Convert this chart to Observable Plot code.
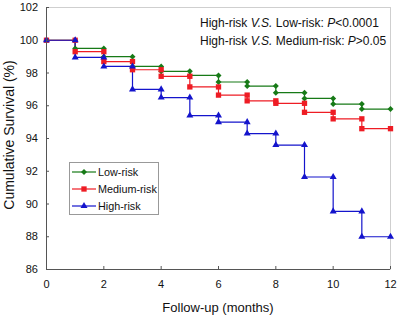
<!DOCTYPE html>
<html>
<head>
<meta charset="utf-8">
<script src="https://cdn.jsdelivr.net/npm/d3@7"></script>
<script src="https://cdn.jsdelivr.net/npm/@observablehq/plot@0.6"></script>
<style>
  html, body { margin: 0; padding: 0; background: #fff; }
  #wrap { position: relative; width: 398px; height: 315px; font-family: "Liberation Sans", Arial, sans-serif; color: #111; }
  #wrap svg { display: block; }
  .ylab { position: absolute; left: 9px; top: 135px; transform: translate(-50%, -50%) rotate(-90deg); font-size: 14px; white-space: nowrap; }
  .xlab { position: absolute; left: 218px; top: 307px; transform: translate(-50%, -50%); font-size: 13px; white-space: nowrap; }
  .ann { position: absolute; left: 200px; font-size: 12px; white-space: nowrap; }
  .legend { position: absolute; left: 69px; top: 162px; width: 88px; height: 51px; border: 1px solid #999; background: #fff; font-size: 10.8px; }
  .legend .row { position: absolute; left: 2px; height: 14px; display: flex; align-items: center; }
  .legend .row svg { margin-right: 2px; }
</style>
</head>
<body>
<div id="wrap"></div>
<script>
const months = [0, 1, 2, 3, 4, 5, 6, 7, 8, 9, 10, 11, 12];
const lowRisk = [100, 99.5, 99.0, 98.4, 98.1, 97.85, 97.45, 97.2, 96.8, 96.45, 96.1, 95.8, 95.8];
const mediumRisk = [100, 99.3, 98.7, 98.2, 97.8, 97.15, 96.65, 96.3, 96.15, 95.6, 95.2, 94.6, 94.6];
const highRisk = [100, 98.95, 98.4, 97.0, 96.5, 95.4, 95.0, 94.3, 93.6, 91.65, 89.55, 88.0, 88.0];
const seriesNames = ["Low-risk", "Medium-risk", "High-risk"];
const seriesColors = ["#177a17", "#ee1c24", "#1414cc"];
const seriesSymbols = ["diamond2", "square", "triangle"];
const seriesR = [2.7, 3, 2.6];
const xTicks = [0, 2, 4, 6, 8, 10, 12];
const yTicks = [86, 88, 90, 92, 94, 96, 98, 100, 102];

const allSeries = [lowRisk, mediumRisk, highRisk];

function lineData(vals, name) {
  return months.map((m, i) => ({ month: m, value: vals[i], series: name }));
}
function markerData(vals, name) {
  const out = [];
  months.forEach((m, i) => {
    const s = [];
    if (i > 0) s.push(vals[i - 1]);
    if (!s.includes(vals[i])) s.push(vals[i]);
    s.forEach(v => out.push({ month: m, value: v, series: name }));
  });
  return out;
}

const marks = [
  Plot.frame({ stroke: "#cfcfcf" }),
];
allSeries.forEach((vals, k) => {
  marks.push(Plot.line(lineData(vals, seriesNames[k]), {
    x: "month", y: "value", curve: "step-after",
    stroke: seriesColors[k], strokeWidth: 1.2
  }));
});
allSeries.forEach((vals, k) => {
  marks.push(Plot.dot(markerData(vals, seriesNames[k]), {
    x: "month", y: "value", symbol: () => seriesSymbols[k],
    r: seriesR[k], fill: seriesColors[k], stroke: "none"
  }));
});
marks.push(
  Plot.ruleX([0], { stroke: "#555" }),
  Plot.ruleY([86], { stroke: "#555" }),
  Plot.axisX({ ticks: xTicks, tickSize: -3, tickPadding: 14, fontSize: 11, label: null, stroke: "#555", fill: "#111" }),
  Plot.axisY({ ticks: yTicks, tickSize: -3, tickPadding: 11.5, fontSize: 11, label: null, stroke: "#555", fill: "#111" })
);

const chart = Plot.plot({
  width: 398,
  height: 315,
  marginLeft: 46,
  marginRight: 8,
  marginTop: 7,
  marginBottom: 46,
  style: { fontFamily: "'Liberation Sans', Arial, sans-serif", background: "#fff" },
  x: { domain: [0, 12] },
  y: { domain: [86, 102] },
  symbol: { type: "identity" },
  marks
});

const wrap = document.getElementById("wrap");
wrap.appendChild(chart);

const ylab = document.createElement("div");
ylab.className = "ylab";
ylab.textContent = "Cumulative Survival (%)";
wrap.appendChild(ylab);

const xlab = document.createElement("div");
xlab.className = "xlab";
xlab.textContent = "Follow-up (months)";
wrap.appendChild(xlab);

const ann1 = document.createElement("div");
ann1.className = "ann";
ann1.style.top = "16px";
ann1.innerHTML = "High-risk <i>V.S.</i> Low-risk: <i>P</i>&lt;0.0001";
wrap.appendChild(ann1);
const ann2 = document.createElement("div");
ann2.className = "ann";
ann2.style.top = "34px";
ann2.innerHTML = "High-risk <i>V.S.</i> Medium-risk: <i>P</i>&gt;0.05";
wrap.appendChild(ann2);

const legend = document.createElement("div");
legend.className = "legend";
const symbolGen = { diamond2: d3.symbolDiamond2, square: d3.symbolSquare, triangle: d3.symbolTriangle };
seriesNames.forEach((name, k) => {
  const row = document.createElement("div");
  row.className = "row";
  row.style.top = (2 + k * 17) + "px";
  const sym = d3.symbol(symbolGen[seriesSymbols[k]], Math.PI * seriesR[k] * seriesR[k])();
  row.innerHTML = `<svg width="24" height="10"><line x1="0" x2="24" y1="5" y2="5" stroke="${seriesColors[k]}" stroke-width="1.2"/><path transform="translate(12,5)" d="${sym}" fill="${seriesColors[k]}"/></svg><span>${name}</span>`;
  legend.appendChild(row);
});
wrap.appendChild(legend);
</script>
</body>
</html>
